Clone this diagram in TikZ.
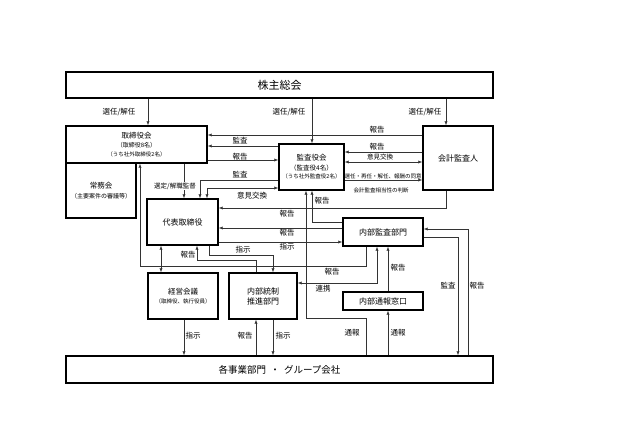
\documentclass[tikz,border=0pt]{standalone}
\usepackage{fontspec}
\setmainfont{Noto Sans CJK JP}
\usetikzlibrary{arrows.meta}
\newcommand\fsz[1]{\fontsize{#1}{#1}\selectfont}
\begin{document}
\begin{tikzpicture}[x=1pt,y=-1pt,
  box/.style={draw=black, line width=1.4pt, inner sep=0pt, align=center, font=\fsz{8}},
  con/.style={draw=black!80, line width=0.6pt},
  arr/.style={con, -{Latex[length=4pt,width=3.2pt]}},
  darr/.style={con, {Latex[length=4pt,width=3.2pt]}-{Latex[length=4pt,width=3.2pt]}},
  lab/.style={font=\fsz{7.5}, inner sep=0.5pt},
  slab/.style={font=\fsz{5.5}, inner sep=0.5pt}]
\useasboundingbox (0,0) rectangle (627,443);
\fill[white] (0,0) rectangle (627,443);

% boxes
\node[box, minimum width=427pt, minimum height=26pt, font=\fsz{11}] (kabu) at (279.5,85) {株主総会};
\node[box, minimum width=141pt, minimum height=37pt] (tori) at (136.5,144.5)
  {{\fsz{7.5}取締役会}\\[1pt]{\fsz{6}（取締役8名）}\\[0.5pt]{\fsz{5.5}（うち社外取締役2名）}};
\node[box, minimum width=70pt, minimum height=55pt] (jomu) at (101,190.5)
  {{\fsz{7.5}常務会}\\[2pt]{\fsz{6}（主要案件の審議等）}};
\node[box, minimum width=65pt, minimum height=46pt] (kansa) at (311.5,167)
  {{\fsz{7.5}監査役会}\\[1.5pt]{\fsz{6.5}（監査役4名）}\\[0.5pt]{\fsz{5.5}（うち社外監査役2名）}};
\node[box, minimum width=70pt, minimum height=64pt] (kaikei) at (458,158) {会計監査人};
\node[box, minimum width=71pt, minimum height=46pt] (daihyo) at (182.5,222) {代表取締役};
\node[box, minimum width=80pt, minimum height=28pt] (naibu) at (383,232) {内部監査部門};
\node[box, minimum width=80pt, minimum height=18pt] (tsuho) at (383,301) {内部通報窓口};
\node[box, minimum width=70pt, minimum height=46pt] (keiei) at (183,296)
  {{\fsz{7.5}経営会議}\\[1.5pt]{\fsz{5.5}（取締役、執行役員）}};
\node[box, minimum width=68pt, minimum height=46pt] (tosei) at (263,296)
  {内部統制\\[2pt]推進部門};
\node[box, minimum width=427pt, minimum height=27pt, font=\fsz{9.5}] (jigyo) at (279.5,369.5)
  {各事業部門\ \ ・\ \ グループ会社};

% helper coordinates
\foreach \v in {140,148,161,184,197,200,207,209,256,273,306,312,366,377,388,446,458,468}
  {\coordinate (x\v) at (\v,0);}
\foreach \v in {135,146,152,160,162,180,188,208,222,228,229,237,242,255,260,266,283,318}
  {\coordinate (y\v) at (0,\v);}

% connectors
\draw[arr] (kabu.south -| x148) -- (tori.north -| x148);
\draw[arr] (kabu.south -| x312) -- (kansa.north -| x312);
\draw[arr] (kabu.south -| x446) -- (kaikei.north -| x446);
\draw[arr] (kaikei.west |- y135) -- (tori.east |- y135);
\draw[arr] (kansa.west |- y146) -- (tori.east |- y146);
\draw[arr] (tori.east |- y160) -- (kansa.west |- y160);
\draw[arr] (kansa.west |- y180) -| (daihyo.north -| x200);
\draw[darr] (daihyo.north -| x207) |- (kansa.west |- y188);
\draw[arr] (tori.south -| x184) -- (daihyo.north -| x184);
\draw[arr] (kaikei.west |- y152) -- (kansa.east |- y152);
\draw[darr] (kansa.east |- y162) -- (kaikei.west |- y162);
\draw[arr] (kansa.east |- y180) -- (kaikei.west |- y180);
\draw[arr] (kaikei.south -| x446) |- (daihyo.east |- y208);
\draw[arr] (naibu.west |- y222) -| (kansa.south -| x312);
\draw[arr] (naibu.west |- y228) -- (daihyo.east |- y228);
\draw[arr] (daihyo.east |- y242) -- (naibu.west |- y242);
\draw[arr] (naibu.south -| x366) |- (x140 |- y266) -- (tori.south -| x140);
\draw[darr] (naibu.south -| x377) |- (tosei.east |- y283);
\draw[arr] (tsuho.north -| x388) -- (naibu.south -| x388);
\draw[arr] (jigyo.north -| x388) -- (tsuho.south -| x388);
\draw[arr] (jigyo.north -| x366) |- (x306 |- y318) -- (kansa.south -| x306);
\draw[arr] (naibu.east |- y237) -| (jigyo.north -| x458);
\draw[arr] (jigyo.north -| x468) |- (naibu.east |- y229);
\draw[darr] (daihyo.south -| x161) -- (keiei.north -| x161);
\draw[arr] (tosei.north -| x256) |- (x197 |- y260) -- (daihyo.south -| x197);
\draw[arr] (daihyo.south -| x209) |- (x273 |- y255) -- (tosei.north -| x273);
\draw[arr] (keiei.south -| x184) -- (jigyo.north -| x184);
\draw[arr] (jigyo.north -| x256) -- (tosei.south -| x256);
\draw[arr] (tosei.south -| x273) -- (jigyo.north -| x273);

% labels
\node[lab] (l1) at (119,112) {選任/解任};
\node[lab] (l2) at (289,112) {選任/解任};
\node[lab] (l3) at (425,112) {選任/解任};
\node[lab] (l4) at (377,130) {報告};
\node[lab] (l5) at (240,140.5) {監査};
\node[lab] (l6) at (240,156.5) {報告};
\node[lab] (l7) at (240,175) {監査};
\node[lab] (l8) at (252,196) {意見交換};
\node[font=\fsz{6.5}, fill=white, inner sep=0.5pt] (l9) at (175,186) {選定/解職監督};
\node[lab] (l10) at (377,147) {報告};
\node[font=\fsz{6.5}, inner sep=0.5pt] (l11) at (380,157.5) {意見交換};
\node[slab] (l12) at (383,176.5) {選任・再任・解任、報酬の同意};
\node[slab] (l13) at (381,190) {会計監査相当性の判断};
\node[lab] (l14) at (322,201) {報告};
\node[lab] (l15) at (287,214) {報告};
\node[lab] (l16) at (287,232.5) {報告};
\node[lab] (l17) at (287,247) {指示};
\node[lab] (l18) at (188,254.5) {報告};
\node[lab] (l19) at (243,250) {指示};
\node[lab] (l20) at (332,272) {報告};
\node[lab] (l21) at (323,289) {連携};
\node[lab] (l22) at (398,268) {報告};
\node[lab] (l23) at (448,286) {監査};
\node[lab] (l24) at (477,286) {報告};
\node[lab] (l25) at (193,336) {指示};
\node[lab] (l26) at (245,336) {報告};
\node[lab] (l27) at (283,336) {指示};
\node[lab] (l28) at (352,333) {通報};
\node[lab] (l29) at (398,333) {通報};
\end{tikzpicture}
\end{document}
